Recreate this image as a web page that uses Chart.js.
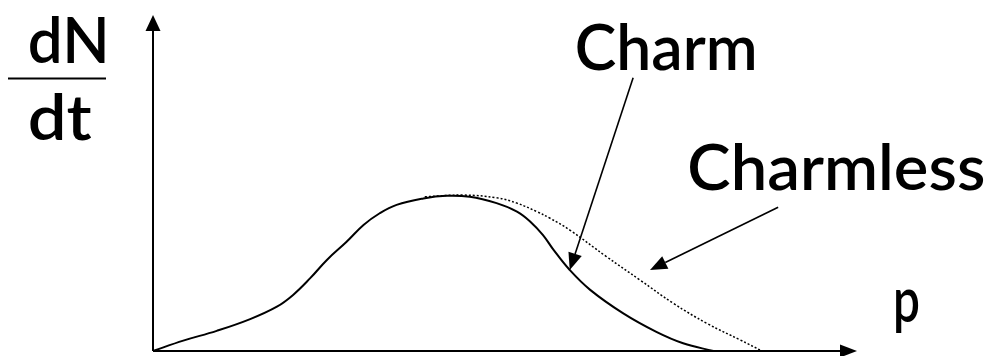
<!DOCTYPE html>
<html>
<head>
<meta charset="utf-8">
<script src="https://cdn.jsdelivr.net/npm/chart.js@4/dist/chart.umd.min.js"></script>
<style>
  html, body { margin: 0; padding: 0; background: #ffffff; }
  #wrap { width: 992px; height: 356px; }
</style>
</head>
<body>
<div id="wrap"><canvas id="c" width="992" height="356"></canvas></div>
<script>
// ---- data (arbitrary units) ----
const charmP      = [0, 0.43, 0.905, 1.38, 1.76, 1.99, 2.23, 2.47, 2.75, 2.99, 3.22, 3.46, 3.84, 4.17, 4.50, 4.88, 5.17, 5.36, 5.54, 5.69, 5.92, 6.21, 6.68, 7.15, 7.53, 7.96];
const charmRate   = [0, 0.31, 0.60, 0.95, 1.32, 1.67, 2.16, 2.71, 3.25, 3.75, 4.10, 4.35, 4.54, 4.62, 4.59, 4.40, 4.15, 3.85, 3.45, 3.01, 2.41, 1.82, 1.12, 0.57, 0.23, 0];
const charmlessP    = [3.86, 4.41, 4.88, 5.17, 5.45, 5.64, 5.92, 6.44, 6.92, 7.39, 7.87, 8.34, 8.65];
const charmlessRate = [4.59, 4.64, 4.56, 4.40, 4.15, 3.95, 3.60, 2.81, 2.11, 1.42, 0.82, 0.33, 0];
const axisTitleY = ["dN", "dt"];
const axisTitleX = "p";
const seriesNames = ["Charm", "Charmless"];

const toPts = (xs, ys) => xs.map((x, i) => ({ x: x, y: ys[i] }));

const FONT = "Lato, 'DejaVu Sans', sans-serif";

function fitText(ctx, text, x, y, w, size) {
  ctx.save();
  ctx.font = "600 " + size + "px " + FONT;
  const m = ctx.measureText(text).width;
  ctx.translate(x, y);
  ctx.scale(w / m, 1);
  ctx.textBaseline = "alphabetic";
  ctx.textAlign = "left";
  ctx.fillText(text, 0, 0);
  ctx.restore();
}

function arrow(ctx, x1, y1, x2, y2, len, half) {
  const a = Math.atan2(y2 - y1, x2 - x1);
  const bx = x2 - len * Math.cos(a), by = y2 - len * Math.sin(a);
  ctx.beginPath();
  ctx.moveTo(x1, y1);
  ctx.lineTo(bx, by);
  ctx.stroke();
  ctx.beginPath();
  ctx.moveTo(x2, y2);
  ctx.lineTo(bx + half * Math.sin(a), by - half * Math.cos(a));
  ctx.lineTo(bx - half * Math.sin(a), by + half * Math.cos(a));
  ctx.closePath();
  ctx.fill();
}

const decor = {
  id: "decor",
  beforeDraw(chart) {
    const ctx = chart.ctx;
    ctx.save();
    ctx.fillStyle = "#fff";
    ctx.fillRect(0, 0, chart.width, chart.height);
    ctx.restore();
  },
  afterDatasetsDraw(chart) {
    const ctx = chart.ctx;
    const xs = chart.scales.x, ys = chart.scales.y;
    const X = v => xs.getPixelForValue(v), Y = v => ys.getPixelForValue(v);
    ctx.save();
    ctx.strokeStyle = "#000";
    ctx.fillStyle = "#000";
    ctx.lineWidth = 2;
    // axes with arrows
    arrow(ctx, X(0), Y(0), X(0), Y(10), 16, 7.5);
    arrow(ctx, X(0), Y(0), X(10), Y(0), 17, 6.5);
    // pointer arrows
    ctx.lineWidth = 1.6;
    arrow(ctx, X(6.82), Y(8.13), X(5.92), Y(2.41), 17, 7);
    arrow(ctx, X(8.88), Y(4.28), X(7.06), Y(2.41), 17, 7);
    // fraction bar
    ctx.lineWidth = 2;
    ctx.beginPath();
    ctx.moveTo(8, 78.5);
    ctx.lineTo(106, 78.5);
    ctx.stroke();
    // texts
    fitText(ctx, axisTitleY[0], X(-1.78), Y(8.57), 82, 64);
    fitText(ctx, axisTitleY[1], X(-1.78), Y(6.28), 64, 64);
    fitText(ctx, axisTitleX, X(10.51), Y(0.86), 27, 64);
    fitText(ctx, seriesNames[0], X(5.99), Y(8.36), 183, 64);
    fitText(ctx, seriesNames[1], X(7.59), Y(4.79), 298, 64);
    ctx.restore();
  }
};

new Chart(document.getElementById("c"), {
  type: "scatter",
  data: {
    datasets: [
      {
        label: seriesNames[0],
        data: toPts(charmP, charmRate),
        showLine: true,
        borderColor: "#000",
        borderWidth: 2,
        pointRadius: 0,
        tension: 0.4,
        fill: false
      },
      {
        label: seriesNames[1],
        data: toPts(charmlessP, charmlessRate),
        showLine: true,
        borderColor: "#000",
        borderWidth: 1.5,
        borderDash: [2, 2],
        pointRadius: 0,
        tension: 0.4,
        fill: false
      }
    ]
  },
  options: {
    responsive: false,
    animation: false,
    devicePixelRatio: 1,
    layout: { padding: { left: 153, right: 135, top: 15, bottom: 5 } },
    plugins: { legend: { display: false }, tooltip: { enabled: false } },
    scales: {
      x: { type: "linear", min: 0, max: 10, display: false },
      y: { type: "linear", min: 0, max: 10, display: false }
    },
    clip: false
  },
  plugins: [decor]
});
</script>
</body>
</html>
